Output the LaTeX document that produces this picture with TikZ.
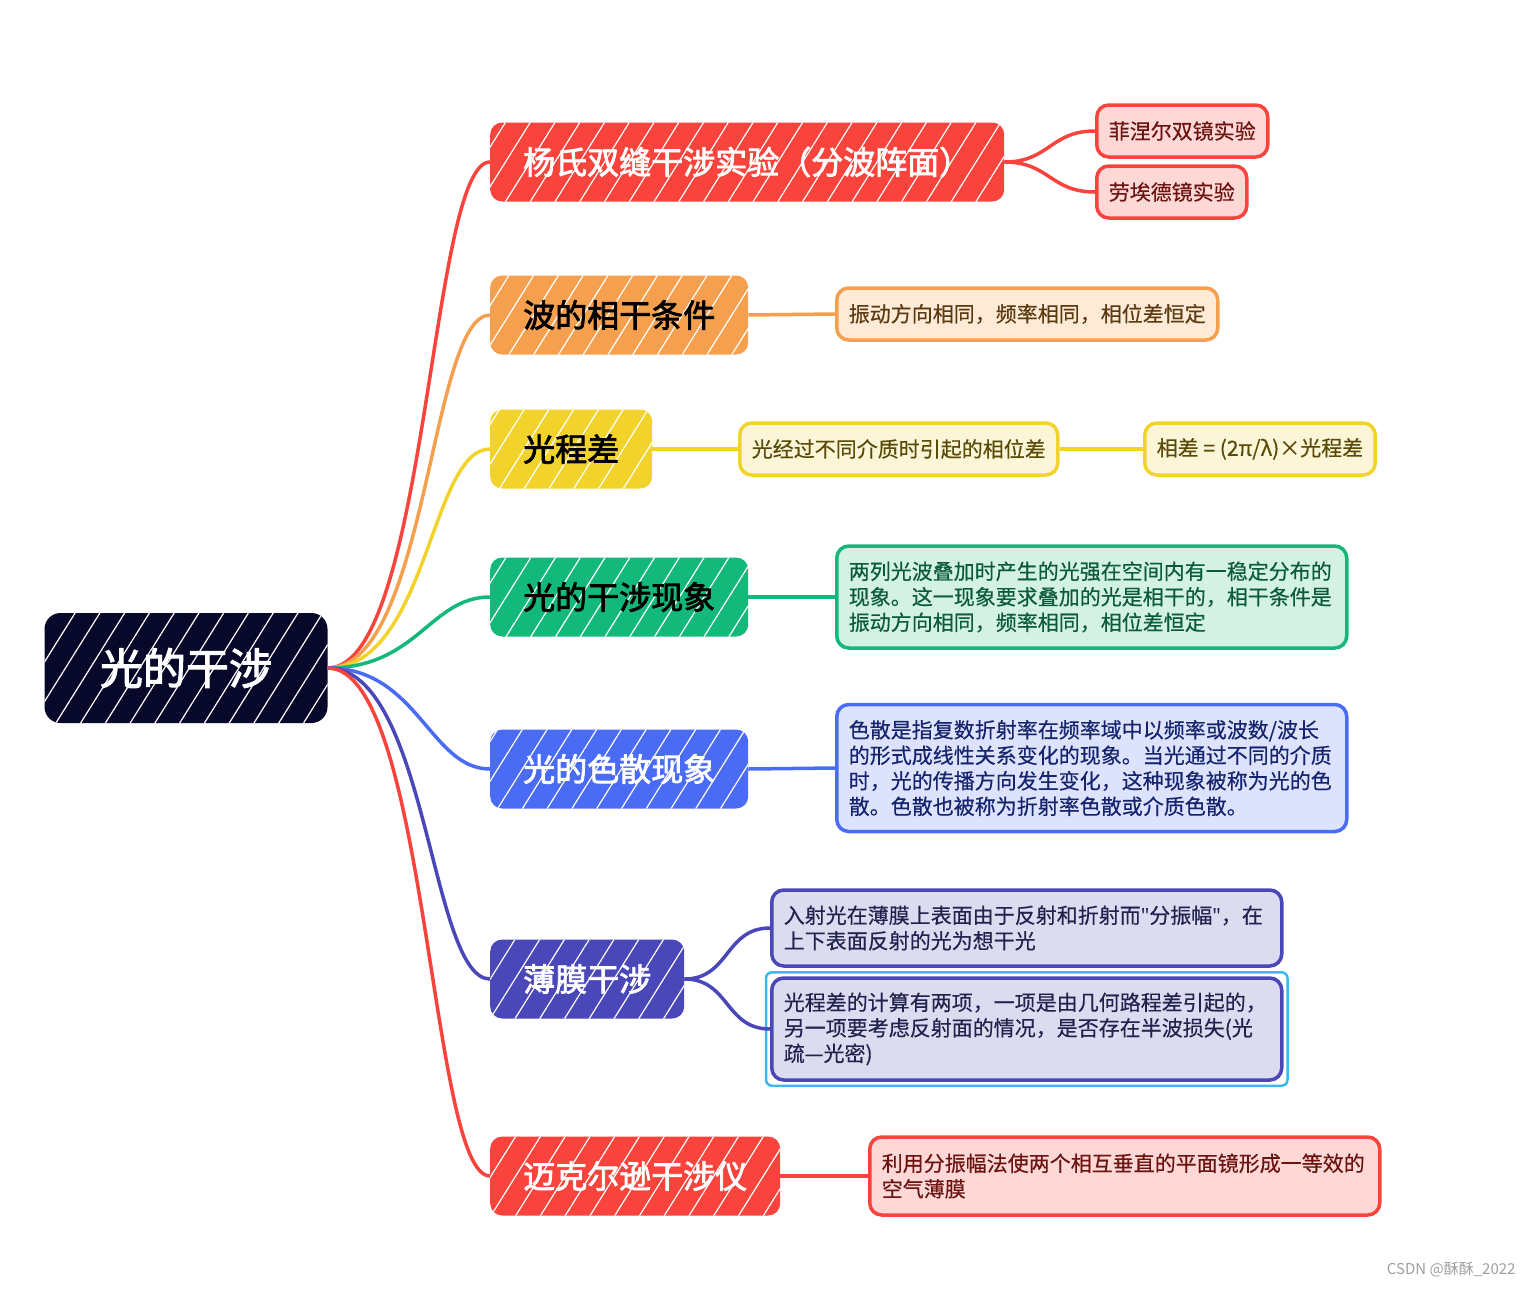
\documentclass[tikz,border=0pt]{standalone}
\usepackage{fontspec}
\setmainfont{Noto Sans CJK SC}
\newfontfamily\topicfont{Noto Sans CJK SC}[FakeBold=2.4]
\newfontfamily\leaffont{Noto Sans CJK SC}[FakeBold=0.35]
\newfontfamily\latinfont{Noto Sans}
\usetikzlibrary{patterns.meta, fit}

\definecolor{cRoot}{HTML}{08082B}
\definecolor{cRed}{HTML}{F8443C}
\definecolor{cRedLt}{HTML}{FDD8D6}
\definecolor{cRedDk}{HTML}{6B1410}
\definecolor{cOrange}{HTML}{F5A04F}
\definecolor{cOrangeLt}{HTML}{FDEBD8}
\definecolor{cOrangeDk}{HTML}{5C3A10}
\definecolor{cYellow}{HTML}{F2D32B}
\definecolor{cYellowLt}{HTML}{FCF6D8}
\definecolor{cYellowDk}{HTML}{5A4A08}
\definecolor{cGreen}{HTML}{12B97A}
\definecolor{cGreenLt}{HTML}{D3F2E5}
\definecolor{cGreenDk}{HTML}{0B5A3C}
\definecolor{cBlue}{HTML}{4A6BF4}
\definecolor{cBlueLt}{HTML}{DDE3FC}
\definecolor{cBlueDk}{HTML}{16246E}
\definecolor{cIndigo}{HTML}{4A47B8}
\definecolor{cIndigoLt}{HTML}{DCDCF0}
\definecolor{cIndigoDk}{HTML}{22224E}
\definecolor{cSelect}{HTML}{3CB8F0}

\tikzstyle{hatch} = [
    postaction={
        pattern={Lines[angle=58, distance=21pt, line width=1.2pt]},
        pattern color=white,
        fill opacity=0.28
    }
]
\tikzstyle{rootbox} = [
    rectangle,
    rounded corners=16pt,
    minimum width=283pt,
    minimum height=110pt,
    fill=cRoot,
    text=white,
    font=\topicfont\fontsize{43}{48}\selectfont,
    hatch
]
\tikzstyle{topic} = [
    rectangle,
    rounded corners=12pt,
    minimum height=79pt,
    inner xsep=33pt,
    anchor=west,
    font=\topicfont\fontsize{32}{36}\selectfont,
    hatch
]
\tikzstyle{leaf} = [
    rectangle,
    rounded corners=12pt,
    line width=3.5pt,
    inner xsep=12pt,
    anchor=west,
    align=left,
    font=\leaffont\fontsize{21}{25.5}\selectfont
]
\tikzstyle{link} = [line width=3.5pt]

\begin{document}
\begin{tikzpicture}[x=1pt, y=-1pt]
\useasboundingbox (0,0) rectangle (1531,1288);

% Nodes
\node (root) [rootbox] at (186,668) {光的干涉};

\node (yang) [topic, fill=cRed, text=white] at (490,162) {杨氏双缝干涉实验（分波阵面）};
\node (cond) [topic, fill=cOrange, text=black] at (490,315) {波的相干条件};
\node (path) [topic, fill=cYellow, text=black] at (490,449) {光程差};
\node (intf) [topic, fill=cGreen, text=black] at (490,597) {光的干涉现象};
\node (disp) [topic, fill=cBlue, text=white] at (490,769) {光的色散现象};
\node (film) [topic, fill=cIndigo, text=white] at (490,979) {薄膜干涉};
\node (mich) [topic, fill=cRed, text=white] at (490,1176) {迈克尔逊干涉仪};

\node (fresnel) [leaf, draw=cRed, fill=cRedLt, text=cRedDk, minimum height=52pt] at (1095,131) {菲涅尔双镜实验};
\node (lloyd) [leaf, draw=cRed, fill=cRedLt, text=cRedDk, minimum height=52pt] at (1095,192) {劳埃德镜实验};
\node (condleaf) [leaf, draw=cOrange, fill=cOrangeLt, text=cOrangeDk, minimum height=52pt] at (835,314) {振动方向相同，频率相同，相位差恒定};
\node (path1) [leaf, draw=cYellow, fill=cYellowLt, text=cYellowDk, minimum height=52pt] at (738,449) {光经过不同介质时引起的相位差};
\node (path2) [leaf, draw=cYellow, fill=cYellowLt, text=cYellowDk, minimum height=52pt] at (1143,449) {相差 = (2π/λ)×光程差};
\node (intfleaf) [leaf, draw=cGreen, fill=cGreenLt, text=cGreenDk, minimum height=102pt, text width=486pt] at (835,597)
    {两列光波叠加时产生的光强在空间内有一稳定分布的\\现象。这一现象要求叠加的光是相干的，相干条件是\\振动方向相同，频率相同，相位差恒定};
\node (displeaf) [leaf, draw=cBlue, fill=cBlueLt, text=cBlueDk, minimum height=127pt, text width=486pt] at (835,768)
    {色散是指复数折射率在频率域中以频率或波数/波长\\的形式成线性关系变化的现象。当光通过不同的介质\\时，光的传播方向发生变化，这种现象被称为光的色\\散。色散也被称为折射率色散或介质色散。};
\node (film1) [leaf, draw=cIndigo, fill=cIndigoLt, text=cIndigoDk, minimum height=76pt, text width=486pt] at (770,928)
    {入射光在薄膜上表面由于反射和折射而{\latinfont"}分振幅{\latinfont"}，在\\上下表面反射的光为想干光};
\node (film2) [leaf, draw=cIndigo, fill=cIndigoLt, text=cIndigoDk, minimum height=102pt, text width=486pt] at (770,1029)
    {光程差的计算有两项，一项是由几何路程差引起的，\\另一项要考虑反射面的情况，是否存在半波损失(光\\疏—光密)};
\node (select) [fit=(film2), inner sep=4pt, draw=cSelect, line width=2.5pt, rounded corners=6pt] {};
\node (michleaf) [leaf, draw=cRed, fill=cRedLt, text=cRedDk, minimum height=78pt, text width=486pt] at (868,1176)
    {利用分振幅法使两个相互垂直的平面镜形成一等效的\\空气薄膜};

\node (mark) [anchor=east, text=gray!75, font=\fontsize{15}{18}\selectfont] at (1519,1270) {CSDN @酥酥\_2022};

% Connectors
\draw [link, cRed] (root.east) .. controls +(100,0) and +(-60,0) .. (yang.west);
\draw [link, cOrange] (root.east) .. controls +(100,0) and +(-60,0) .. (cond.west);
\draw [link, cYellow] (root.east) .. controls +(100,0) and +(-60,0) .. (path.west);
\draw [link, cGreen] (root.east) .. controls +(90,0) and +(-60,0) .. (intf.west);
\draw [link, cBlue] (root.east) .. controls +(90,0) and +(-60,0) .. (disp.west);
\draw [link, cIndigo] (root.east) .. controls +(100,0) and +(-60,0) .. (film.west);
\draw [link, cRed] (root.east) .. controls +(100,0) and +(-60,0) .. (mich.west);

\draw [link, cRed] (yang.east) .. controls +(45,0) and +(-45,0) .. (fresnel.west);
\draw [link, cRed] (yang.east) .. controls +(45,0) and +(-45,0) .. (lloyd.west);
\draw [link, cOrange] (cond.east) -- (condleaf.west);
\draw [link, cYellow] (path.east) -- (path1.west);
\draw [link, cYellow] (path1.east) -- (path2.west);
\draw [link, cGreen] (intf.east) -- (intfleaf.west);
\draw [link, cBlue] (disp.east) -- (displeaf.west);
\draw [link, cIndigo] (film.east) .. controls +(45,0) and +(-45,0) .. (film1.west);
\draw [link, cIndigo] (film.east) .. controls +(45,0) and +(-45,0) .. (film2.west);
\draw [link, cRed] (mich.east) -- (michleaf.west);

\end{tikzpicture}
\end{document}
